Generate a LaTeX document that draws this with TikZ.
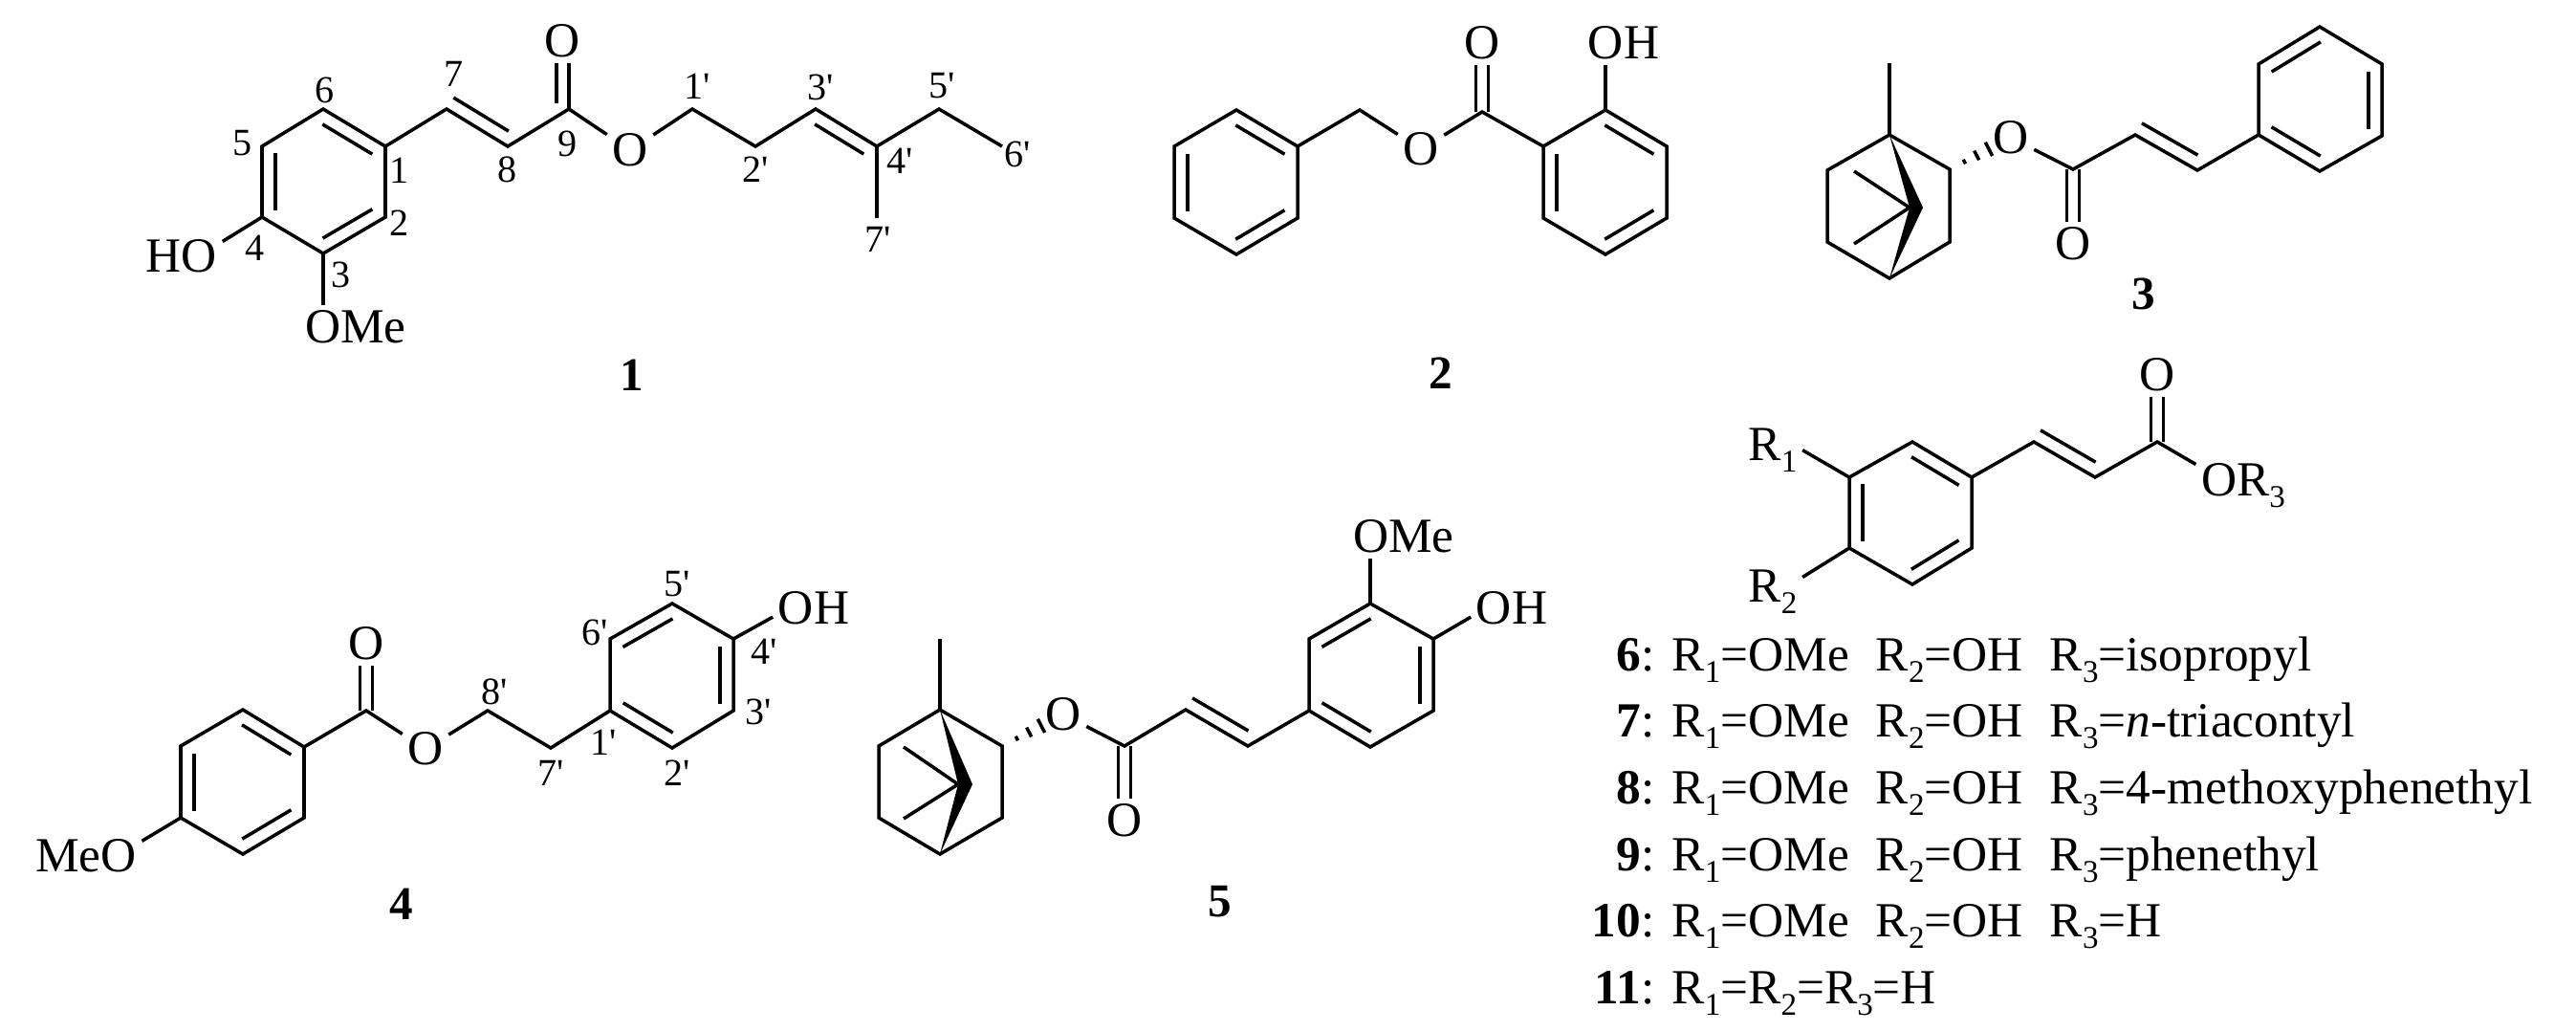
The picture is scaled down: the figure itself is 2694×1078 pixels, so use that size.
\documentclass[tikz,border=0pt]{standalone}
\usepackage{fontspec}
\setmainfont{Liberation Serif}
\usetikzlibrary{calc}

\newcommand{\pr}{\textquotesingle}
\newcommand{\Rn}[1]{R\raisebox{-.25em}{\fontsize{9.4pt}{9.4pt}\selectfont #1}}
\newcommand{\inbond}[3][.1]{\draw[bond] ($(#2)!#1!(#3)!.14cm!90:(#3)$) -- ($(#3)!.1!(#2)!.14cm!-90:(#2)$);}
\newcommand{\hashbond}[2]{%
  \draw[bond] ($(#1)!.24!(#2)!.025cm!90:(#2)$) -- ($(#1)!.24!(#2)!.025cm!-90:(#2)$);
  \draw[bond] ($(#1)!.44!(#2)!.055cm!90:(#2)$) -- ($(#1)!.44!(#2)!.055cm!-90:(#2)$);
  \draw[bond] ($(#1)!.64!(#2)!.08cm!90:(#2)$) -- ($(#1)!.64!(#2)!.08cm!-90:(#2)$);
}

\tikzset{
  bond/.style={line width=1pt},
  dblbond/.style={bond,double,double distance=.095cm},
  atomlab/.style={inner sep=.05cm,font=\fontsize{14.6pt}{14.6pt}\selectfont},
  numlab/.style={inner sep=0pt,font=\fontsize{11.4pt}{11.4pt}\selectfont},
  cmpdlab/.style={inner sep=0pt,font=\fontsize{14pt}{14pt}\selectfont\bfseries},
  rowlab/.style={inner sep=0pt,anchor=base west,font=\fontsize{14.6pt}{14.6pt}\selectfont},
  rowtag/.style={inner sep=0pt,anchor=base east,font=\fontsize{14.6pt}{14.6pt}\selectfont},
}

\begin{document}
\begin{tikzpicture}[x=.01cm,y=-.01cm]
  \useasboundingbox (0,0) rectangle (2694,1078);

  \coordinate (a1) at (403,153);
  \coordinate (a2) at (403,227);
  \coordinate (a3) at (338,265);
  \coordinate (a4) at (274,227);
  \coordinate (a5) at (274,153);
  \coordinate (a6) at (338,114);
  \coordinate (a7) at (467,114);
  \coordinate (a8) at (531,153);
  \coordinate (a9) at (595,114);
  \coordinate (a9i) at (582,108);
  \coordinate (b1) at (724,114);
  \coordinate (b2) at (790,153);
  \coordinate (b3) at (853,114);
  \coordinate (b4) at (917,153);
  \coordinate (b5) at (982,114);
  \coordinate (b6) at (1048,153);
  \coordinate (b7) at (917,228);
  \node[atomlab] (aoa) at (588,43)  {O};
  \node[atomlab] (aob) at (659,157) {O};
  \node[atomlab] (aoh) at (190,268) {HO};
  \node[atomlab] (aome) at (372,342) {OMe};
  \node[cmpdlab] (cmpda) at (661,392) {1};
  \node[numlab] (na1) at (418,178) {1};
  \node[numlab] (na2) at (418,233) {2};
  \node[numlab] (na3) at (357,287) {3};
  \node[numlab] (na4) at (267,259) {4};
  \node[numlab] (na5) at (254,150) {5};
  \node[numlab] (na6) at (340,94)  {6};
  \node[numlab] (na7) at (475,77)  {7};
  \node[numlab] (na8) at (531,177) {8};
  \node[numlab] (na9) at (594,150) {9};
  \node[numlab] (nb1) at (729,90)   {1\pr};
  \node[numlab] (nb2) at (790,177)  {2\pr};
  \node[numlab] (nb3) at (858,91)   {3\pr};
  \node[numlab] (nb4) at (941,168)  {4\pr};
  \node[numlab] (nb5) at (985,90)   {5\pr};
  \node[numlab] (nb6) at (1064,161) {6\pr};
  \node[numlab] (nb7) at (918,250)  {7\pr};
  \draw[bond] (a1) -- (a6) -- (a5) -- (a4) -- (a3) -- (a2) -- cycle;
  \inbond{a1}{a6}
  \inbond{a5}{a4}
  \inbond{a3}{a2}
  \draw[bond] (a9) -- (aoa.south -| a9);
  \draw[bond] (a9i) -- (aoa.south -| a9i);
  \draw[bond] (a1) -- (a7) -- (a8) -- (a9) -- (aob) -- (b1) -- (b2) -- (b3) -- (b4) -- (b5) -- (b6);
  \draw[bond] (b4) -- (b7);
  \inbond[0]{a7}{a8}
  \inbond{b4}{b3}
  \draw[bond] (a4) -- (aoh.20);
  \draw[bond] (a3) -- (aome.north -| a3);

  \coordinate (c1) at (1357,153);
  \coordinate (c2) at (1357,228);
  \coordinate (c3) at (1293,266);
  \coordinate (c4) at (1228,228);
  \coordinate (c5) at (1228,153);
  \coordinate (c6) at (1293,115);
  \coordinate (c7) at (1422,115);
  \coordinate (c8) at (1550,117);
  \coordinate (d1) at (1614,153);
  \coordinate (d2) at (1679,115);
  \coordinate (d3) at (1743,153);
  \coordinate (d4) at (1743,228);
  \coordinate (d5) at (1679,266);
  \coordinate (d6) at (1614,228);
  \node[atomlab] (coa) at (1550,45)  {O};
  \node[atomlab] (cob) at (1486,156) {O};
  \node[atomlab] (coh) at (1698,45)  {OH};
  \node[cmpdlab] (cmpdb) at (1507,390) {2};
  \draw[dblbond] (c8) -- (coa);
  \draw[bond] (c1) -- (c6) -- (c5) -- (c4) -- (c3) -- (c2) -- cycle;
  \inbond{c1}{c6}
  \inbond{c5}{c4}
  \inbond{c3}{c2}
  \draw[bond] (c1) -- (c7) -- (cob) -- (c8) -- (d1);
  \draw[bond] (d1) -- (d2) -- (d3) -- (d4) -- (d5) -- (d6) -- cycle;
  \inbond{d3}{d2}
  \inbond{d1}{d6}
  \inbond{d5}{d4}
  \draw[bond] (d2) -- (coh.south -| d2);

  \coordinate (e1) at (1976,66);
  \coordinate (e2) at (1976,141);
  \coordinate (e3) at (1911,178);
  \coordinate (e4) at (1911,253);
  \coordinate (e5) at (1976,291);
  \coordinate (e6) at (2039,253);
  \coordinate (e7) at (2039,177);
  \coordinate (e8) at (2011,217);
  \coordinate (e9) at (1997,217);
  \coordinate (e10) at (1939,179);
  \coordinate (e11) at (1939,255);
  \coordinate (f1) at (2168,177);
  \coordinate (f2) at (2233,141);
  \coordinate (f3) at (2298,178);
  \coordinate (g1) at (2362,141);
  \coordinate (g2) at (2362,67);
  \coordinate (g3) at (2426,28);
  \coordinate (g4) at (2491,67);
  \coordinate (g5) at (2491,142);
  \coordinate (g6) at (2426,179);
  \node[atomlab] (eoa) at (2103,144) {O};
  \node[atomlab] (eob) at (2168,255) {O};
  \node[cmpdlab] (cmpdc) at (2242,307) {3};
  \draw[dblbond] (f1) -- (eob);
  \draw[bond] (e2) -- (e3) -- (e4) -- (e5) -- (e6) -- (e7) -- cycle;
  \draw[bond] (e1) -- (e2);
  \fill (e2) -- (e8) -- (e5) -- (e9) -- cycle;
  \draw[bond] (e10) -- (e9) -- (e11);
  \hashbond{e7}{eoa}
  \draw[bond] (eoa) -- (f1) -- (f2) -- (f3) -- (g1);
  \inbond[0]{f2}{f3}
  \draw[bond] (g1) -- (g2) -- (g3) -- (g4) -- (g5) -- (g6) -- cycle;
  \inbond{g3}{g2}
  \inbond{g5}{g4}
  \inbond{g1}{g6}

  \coordinate (h1) at (318,781);
  \coordinate (h2) at (318,855);
  \coordinate (h3) at (254,893);
  \coordinate (h4) at (189,855);
  \coordinate (h5) at (189,780);
  \coordinate (h6) at (254,742);
  \coordinate (h7) at (383,743);
  \coordinate (j1) at (510,743);
  \coordinate (j2) at (576,782);
  \coordinate (k1) at (638,743);
  \coordinate (k2) at (703,782);
  \coordinate (k3) at (767,743);
  \coordinate (k4) at (767,668);
  \coordinate (k5) at (703,631);
  \coordinate (k6) at (638,668);
  \node[atomlab] (hoa) at (383,673) {O};
  \node[atomlab] (hob) at (445,783) {O};
  \node[atomlab] (hmeo) at (90,895) {MeO};
  \node[atomlab] (hoh) at (851,636) {OH};
  \node[cmpdlab] (cmpdd) at (420,945) {4};
  \node[numlab] (nk1) at (631,776) {1\pr};
  \node[numlab] (nk2) at (708,808) {2\pr};
  \node[numlab] (nk3) at (793,744) {3\pr};
  \node[numlab] (nk4) at (799,681) {4\pr};
  \node[numlab] (nk5) at (708,611) {5\pr};
  \node[numlab] (nk6) at (622,661) {6\pr};
  \node[numlab] (nk7) at (576,808) {7\pr};
  \node[numlab] (nk8) at (517,723) {8\pr};
  \draw[dblbond] (h7) -- (hoa);
  \draw[bond] (h1) -- (h6) -- (h5) -- (h4) -- (h3) -- (h2) -- cycle;
  \inbond{h1}{h6}
  \inbond{h5}{h4}
  \inbond{h3}{h2}
  \draw[bond] (h1) -- (h7) -- (hob) -- (j1) -- (j2) -- (k1);
  \draw[bond] (k1) -- (k2) -- (k3) -- (k4) -- (k5) -- (k6) -- cycle;
  \inbond{k1}{k2}
  \inbond{k3}{k4}
  \inbond{k5}{k6}
  \draw[bond] (k4) -- (hoh.192);
  \draw[bond] (h4) -- (hmeo.15);

  \coordinate (m1) at (983,668);
  \coordinate (m2) at (983,742);
  \coordinate (m3) at (919,780);
  \coordinate (m4) at (919,855);
  \coordinate (m5) at (983,893);
  \coordinate (m6) at (1048,855);
  \coordinate (m7) at (1048,780);
  \coordinate (m8) at (1017,820);
  \coordinate (m9) at (1002,820);
  \coordinate (m10) at (945,781);
  \coordinate (m11) at (945,856);
  \coordinate (p1) at (1176,780);
  \coordinate (p2) at (1240,742);
  \coordinate (p3) at (1305,780);
  \coordinate (q1) at (1369,743);
  \coordinate (q2) at (1369,668);
  \coordinate (q3) at (1433,631);
  \coordinate (q4) at (1499,668);
  \coordinate (q5) at (1499,743);
  \coordinate (q6) at (1433,781);
  \node[atomlab] (moa) at (1112,747) {O};
  \node[atomlab] (mob) at (1176,858) {O};
  \node[atomlab] (mome) at (1468,561) {OMe};
  \node[atomlab] (moh) at (1581,636) {OH};
  \node[cmpdlab] (cmpde) at (1276,943) {5};
  \draw[dblbond] (p1) -- (mob);
  \draw[bond] (m2) -- (m3) -- (m4) -- (m5) -- (m6) -- (m7) -- cycle;
  \draw[bond] (m1) -- (m2);
  \fill (m2) -- (m8) -- (m5) -- (m9) -- cycle;
  \draw[bond] (m10) -- (m9) -- (m11);
  \hashbond{m7}{moa}
  \draw[bond] (moa) -- (p1) -- (p2) -- (p3) -- (q1);
  \inbond[0]{p2}{p3}
  \draw[bond] (q1) -- (q2) -- (q3) -- (q4) -- (q5) -- (q6) -- cycle;
  \inbond{q3}{q2}
  \inbond{q5}{q4}
  \inbond{q1}{q6}
  \draw[bond] (q3) -- (mome.south -| q3);
  \draw[bond] (q4) -- (moh.192);

  \coordinate (r1) at (2062,499);
  \coordinate (r2) at (2062,573);
  \coordinate (r3) at (2000,611);
  \coordinate (r4) at (1934,573);
  \coordinate (r5) at (1934,499);
  \coordinate (r6) at (2000,462);
  \coordinate (s1) at (2127,462);
  \coordinate (s2) at (2191,499);
  \coordinate (s3) at (2256,462);
  \node[atomlab] (roa) at (2256,392) {O};
  \node[atomlab,anchor=base] (rra) at (1854,481) {\Rn{1}};
  \node[atomlab,anchor=base] (rrb) at (1854,629) {\Rn{2}};
  \node[atomlab,anchor=base] (rrc) at (2346,518) {O\Rn{3}};
  \draw[dblbond] (s3) -- (roa);
  \draw[bond] (r1) -- (r6) -- (r5) -- (r4) -- (r3) -- (r2) -- cycle;
  \inbond{r1}{r6}
  \inbond{r5}{r4}
  \inbond{r3}{r2}
  \draw[bond] (r1) -- (s1) -- (s2) -- (s3) -- (rrc.156);
  \inbond[0]{s1}{s2}
  \draw[bond] (r5) -- (rra.east);
  \draw[bond] (r4) -- (rrb.26);

  \node[rowtag] (taga) at (1731,701)  {\textbf{6}:};
  \node[rowtag] (tagb) at (1731,770)  {\textbf{7}:};
  \node[rowtag] (tagc) at (1731,840)  {\textbf{8}:};
  \node[rowtag] (tagd) at (1731,910)  {\textbf{9}:};
  \node[rowtag] (tage) at (1731,979)  {\textbf{10}:};
  \node[rowtag] (tagf) at (1731,1049) {\textbf{11}:};
  \node[rowlab] (rowa) at (1748,701)  {\Rn{1}=OMe\hspace{.28cm}\Rn{2}=OH\hspace{.28cm}\Rn{3}=isopropyl};
  \node[rowlab] (rowb) at (1748,770)  {\Rn{1}=OMe\hspace{.28cm}\Rn{2}=OH\hspace{.28cm}\Rn{3}=\textit{n}-triacontyl};
  \node[rowlab] (rowc) at (1748,840)  {\Rn{1}=OMe\hspace{.28cm}\Rn{2}=OH\hspace{.28cm}\Rn{3}=4-methoxyphenethyl};
  \node[rowlab] (rowd) at (1748,910)  {\Rn{1}=OMe\hspace{.28cm}\Rn{2}=OH\hspace{.28cm}\Rn{3}=phenethyl};
  \node[rowlab] (rowe) at (1748,979)  {\Rn{1}=OMe\hspace{.28cm}\Rn{2}=OH\hspace{.28cm}\Rn{3}=H};
  \node[rowlab] (rowf) at (1748,1049) {\Rn{1}=\Rn{2}=\Rn{3}=H};
\end{tikzpicture}
\end{document}
